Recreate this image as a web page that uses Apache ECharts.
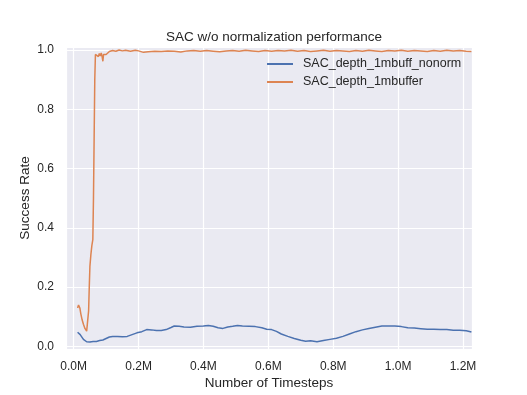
<!DOCTYPE html>
<html><head><meta charset="utf-8">
<script src="https://cdn.jsdelivr.net/npm/echarts@6/dist/echarts.min.js"></script>
<style>html,body{margin:0;padding:0;background:#fff}#c{width:527px;height:395px}</style>
</head><body><div id="c"></div>
<script>
const titleText = "SAC w/o normalization performance";
const xName = "Number of Timesteps";
const yName = "Success Rate";
const seriesNames = ["SAC_depth_1mbuff_nonorm", "SAC_depth_1mbuffer"];

// timesteps in millions
const blueX = [0.012,0.020,0.030,0.040,0.050,0.060,0.070,0.080,0.090,0.100,0.110,0.120,0.135,0.150,0.165,0.180,0.195,0.210,0.225,0.240,0.255,0.270,0.285,0.300,0.310,0.325,0.340,0.360,0.380,0.400,0.415,0.430,0.445,0.460,0.475,0.490,0.505,0.520,0.540,0.560,0.580,0.595,0.610,0.625,0.640,0.660,0.680,0.700,0.715,0.730,0.750,0.770,0.790,0.810,0.830,0.850,0.870,0.890,0.910,0.930,0.950,0.970,0.990,1.010,1.030,1.050,1.070,1.090,1.110,1.130,1.150,1.170,1.190,1.210,1.226];
const blueY = [0.048,0.040,0.024,0.016,0.015,0.017,0.017,0.020,0.022,0.027,0.032,0.034,0.034,0.033,0.034,0.040,0.046,0.050,0.057,0.056,0.054,0.054,0.057,0.064,0.069,0.068,0.066,0.065,0.068,0.069,0.071,0.068,0.063,0.061,0.066,0.068,0.071,0.069,0.068,0.067,0.063,0.058,0.057,0.051,0.042,0.034,0.027,0.021,0.018,0.019,0.016,0.020,0.024,0.028,0.034,0.042,0.050,0.056,0.061,0.065,0.069,0.069,0.069,0.067,0.063,0.062,0.060,0.058,0.058,0.057,0.057,0.055,0.055,0.053,0.049];

const orangeX = [0.012,0.015,0.017,0.019,0.022,0.026,0.030,0.035,0.040,0.043,0.046,0.048,0.050,0.053,0.056,0.059,0.061,0.063,0.065,0.067,0.070,0.073,0.076,0.079,0.082,0.085,0.088,0.090,0.092,0.095,0.100,0.105,0.110,0.115,0.120,0.130,0.140,0.150,0.160,0.175,0.190,0.200,0.215,0.230,0.250,0.270,0.290,0.310,0.330,0.350,0.370,0.390,0.410,0.430,0.450,0.470,0.490,0.510,0.530,0.550,0.570,0.590,0.610,0.630,0.650,0.670,0.690,0.710,0.730,0.750,0.770,0.790,0.810,0.830,0.850,0.870,0.890,0.910,0.930,0.950,0.970,0.990,1.010,1.030,1.050,1.070,1.090,1.110,1.130,1.150,1.170,1.190,1.210,1.226];
const orangeY = [0.130,0.140,0.145,0.130,0.110,0.090,0.075,0.060,0.052,0.050,0.120,0.200,0.270,0.310,0.340,0.360,0.500,0.700,0.900,0.985,0.980,0.985,0.978,0.988,0.980,0.990,0.975,0.962,0.985,0.990,0.985,0.990,0.995,0.990,0.998,0.996,1.000,0.997,0.999,0.996,0.999,0.997,0.992,0.994,0.996,0.995,0.997,0.996,0.993,0.997,0.998,0.996,0.998,0.996,0.994,0.997,0.998,0.996,0.999,0.997,0.995,0.998,0.996,0.998,0.997,0.999,0.996,0.998,0.995,0.997,0.999,0.996,0.998,0.997,0.995,0.998,0.996,0.999,0.997,0.995,0.998,0.997,0.999,0.996,0.998,0.997,0.995,0.998,0.996,0.999,0.997,0.998,0.996,0.995];

const toPairs = (xs, ys) => xs.map((x, i) => [x * 1e6, ys[i]]);
const FONT = "Liberation Sans, Arial, sans-serif";
const TXT = "#262626";

const chart = echarts.init(document.getElementById('c'), null, {renderer: 'canvas'});
chart.setOption({
  animation: false,
  backgroundColor: '#ffffff',
  title: {
    text: titleText, left: 269, textAlign: 'center', top: 25,
    textStyle: {fontFamily: FONT, fontSize: 13.5, fontWeight: 'normal', color: TXT}
  },
  legend: {
    orient: 'vertical', left: 262, top: 50, itemGap: 0,
    itemWidth: 26, itemHeight: 2, icon: 'rect',
    textStyle: {fontFamily: FONT, fontSize: 12.5, color: TXT, lineHeight: 18, padding: [0, 0, 0, 5]},
    data: seriesNames
  },
  grid: {
    left: 66, right: 55, top: 47, bottom: 46, show: true,
    backgroundColor: '#EAEAF2', borderWidth: 0
  },
  xAxis: {
    type: 'value', min: -23700, max: 1227800, splitNumber: 6,
    name: xName, nameLocation: 'middle', nameGap: 27, nameMoveOverlap: false,
    nameTextStyle: {fontFamily: FONT, fontSize: 13.5, color: TXT},
    axisLine: {show: false}, axisTick: {show: false},
    axisLabel: {fontFamily: FONT, fontSize: 12, color: TXT, margin: 12, showMinLabel: false, showMaxLabel: false,
      formatter: v => (v / 1e6).toFixed(1) + 'M'},
    splitLine: {show: true, lineStyle: {color: '#ffffff', width: 1.2}}
  },
  yAxis: {
    type: 'value', min: -0.0085, max: 1.0101, splitNumber: 5,
    name: yName, nameLocation: 'middle', nameGap: 34, nameRotate: 90, nameMoveOverlap: false,
    nameTextStyle: {fontFamily: FONT, fontSize: 13.5, color: TXT},
    axisLine: {show: false}, axisTick: {show: false},
    axisLabel: {fontFamily: FONT, fontSize: 12, color: TXT, margin: 12, showMinLabel: false, showMaxLabel: false,
      formatter: v => v.toFixed(1)},
    splitLine: {show: true, lineStyle: {color: '#ffffff', width: 1.2}}
  },
  series: [
    {name: seriesNames[0], type: 'line', data: toPairs(blueX, blueY), showSymbol: false,
     color: '#4C72B0', lineStyle: {width: 1.5, color: '#4C72B0'}},
    {name: seriesNames[1], type: 'line', data: toPairs(orangeX, orangeY), showSymbol: false,
     color: '#DD8452', lineStyle: {width: 1.5, color: '#DD8452'}}
  ]
});
</script></body></html>
